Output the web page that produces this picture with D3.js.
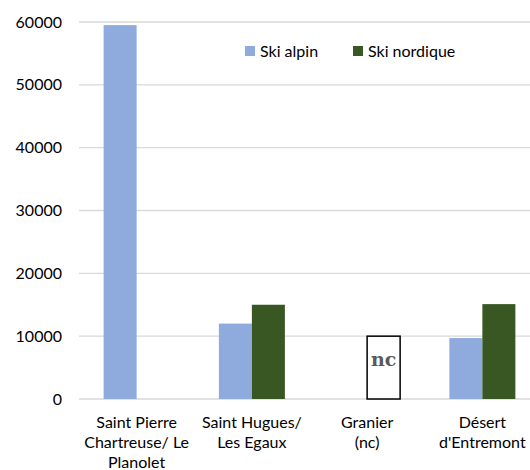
<!DOCTYPE html>
<html>
<head>
<meta charset="utf-8">
<script src="https://cdn.jsdelivr.net/npm/d3@7"></script>
<style>
  body { margin: 0; background: #fff; }
  text { font-family: Lato, "Noto Sans", sans-serif; fill: #000; }
</style>
</head>
<body>
<div id="chart"></div>
<script>
const stations = [["Saint Pierre", "Chartreuse/ Le", "Planolet"], ["Saint Hugues/", "Les Egaux"], ["Granier", "(nc)"], ["Désert", "d'Entremont"]]
const series = ["Ski alpin", "Ski nordique"]
const alpin = [59500, 12000, null, 9700]
const nordique = [null, 15000, null, 15100]
const ncValue = [null, null, 10000, null]   // "nc" placeholder box
const yTicks = [0, 10000, 20000, 30000, 40000, 50000, 60000]
const colors = ["#8FAADC", "#385723"]

const W = 530, H = 470
const margin = {top: 22, right: -10, bottom: 71, left: 79}
const w = W - margin.left - margin.right,
      h = H - margin.top - margin.bottom

const svg = d3.select("#chart").append("svg")
    .attr("width", W).attr("height", H)
const g = svg.append("g").attr("transform", `translate(${margin.left},${margin.top})`)

const y = d3.scaleLinear().domain([0, 60000]).range([h, 0])
const x = d3.scaleBand().domain(d3.range(stations.length)).range([0, w])
const barW = 33
const xs = d3.scaleBand().domain(series).range([x.bandwidth() / 2 - barW, x.bandwidth() / 2 + barW])

// grid
g.append("g").selectAll("line").data(yTicks).join("line")
    .attr("x1", 0).attr("x2", w)
    .attr("y1", d => y(d)).attr("y2", d => y(d))
    .attr("stroke", "#d9d9d9").attr("stroke-width", 1.3)

g.append("g").selectAll("text").data(yTicks).join("text")
    .attr("x", -17).attr("y", d => y(d))
    .attr("dy", "0.35em").attr("text-anchor", "end")
    .style("font-size", "16px")
    .text(d => d)

const rows = [alpin, nordique]
rows.forEach((vals, si) => {
    g.append("g").selectAll("rect")
        .data(vals.map((v, i) => ({i, v})).filter(d => d.v != null))
        .join("rect")
        .attr("x", d => x(d.i) + xs(series[si]))
        .attr("y", d => y(d.v))
        .attr("width", xs.bandwidth())
        .attr("height", d => y(0) - y(d.v))
        .attr("fill", colors[si])
})

// nc box
const nc = g.append("g").selectAll("g")
    .data(ncValue.map((v, i) => ({i, v})).filter(d => d.v != null))
    .join("g")
nc.append("rect")
    .attr("x", d => x(d.i) + xs(series[1]))
    .attr("y", d => y(d.v))
    .attr("width", xs.bandwidth())
    .attr("height", d => y(0) - y(d.v))
    .attr("fill", "#fff").attr("stroke", "#000").attr("stroke-width", 1.5)
nc.append("text")
    .attr("x", d => x(d.i) + xs(series[1]) + xs.bandwidth() / 2)
    .attr("y", d => y(d.v) + 30)
    .attr("text-anchor", "middle")
    .style("font-family", "'DejaVu Serif', serif")
    .style("font-weight", "bold")
    .style("font-size", "19px")
    .style("fill", "#5a5a5a")
    .text("nc")

// category labels
const cat = g.append("g").selectAll("text").data(stations).join("text")
    .attr("text-anchor", "middle")
    .attr("transform", (d, i) => `translate(${x(i) + x.bandwidth() / 2},${h + 29})`)
    .style("font-size", "16px")
cat.selectAll("tspan").data(d => d).join("tspan")
    .attr("x", 0).attr("dy", (d, i) => i ? 20 : 0)
    .text(d => d)

// legend
const legX = [245, 353]
const leg = svg.append("g").selectAll("g").data(series).join("g")
    .attr("transform", (d, i) => `translate(${legX[i]},46)`)
leg.append("rect").attr("width", 10).attr("height", 10).attr("fill", (d, i) => colors[i])
leg.append("text").attr("x", 15).attr("y", 5).attr("dy", "0.35em")
    .style("font-size", "16px").text(d => d)
</script>
</body>
</html>
